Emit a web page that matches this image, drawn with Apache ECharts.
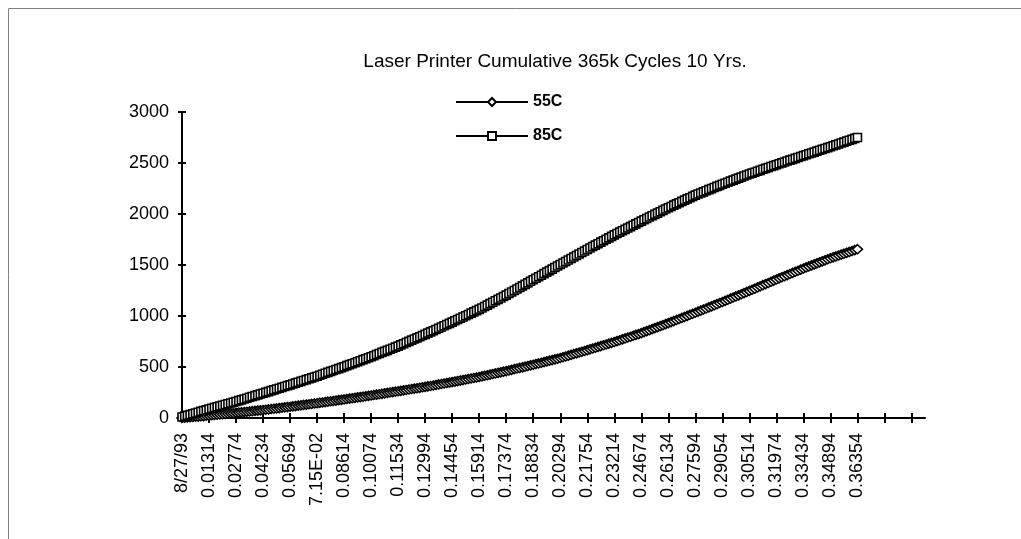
<!DOCTYPE html>
<html>
<head>
<meta charset="utf-8">
<script src="https://cdn.jsdelivr.net/npm/echarts@6/dist/echarts.min.js"></script>
<style>
  html, body { margin: 0; padding: 0; background: #fff; }
  #chart { width: 1021px; height: 539px; }
</style>
</head>
<body>
<div id="chart"></div>
<script>
const titleText = 'Laser Printer Cumulative 365k Cycles 10 Yrs.';
const seriesNames = ['55C', '85C'];
const tickLabels = ['8/27/93','0.01314','0.02774','0.04234','0.05694','7.15E-02','0.08614','0.10074','0.11534','0.12994','0.14454','0.15914','0.17374','0.18834','0.20294','0.21754','0.23214','0.24674','0.26134','0.27594','0.29054','0.30514','0.31974','0.33434','0.34894','0.36354'];
const categoryCount = 276;
const categories = Array.from({ length: categoryCount }, (_, i) => String(i));

const values55C = [
  0, 2, 5, 7, 10, 12, 14, 17, 19, 22,
  24, 27, 29, 32, 34, 37, 40, 42, 45, 47,
  50, 53, 56, 58, 61, 64, 67, 70, 72, 75,
  78, 81, 84, 88, 91, 94, 97, 100, 104, 107,
  110, 114, 117, 121, 124, 128, 131, 135, 138, 142,
  145, 149, 152, 156, 160, 164, 167, 171, 175, 178,
  182, 186, 190, 194, 198, 202, 205, 209, 213, 217,
  221, 225, 229, 233, 237, 242, 246, 250, 254, 258,
  262, 266, 271, 275, 279, 284, 288, 292, 296, 301,
  305, 310, 314, 319, 324, 329, 333, 338, 343, 347,
  352, 357, 362, 367, 372, 377, 382, 387, 392, 397,
  402, 408, 414, 419, 425, 431, 437, 443, 448, 454,
  460, 466, 472, 479, 485, 491, 497, 503, 510, 516,
  522, 529, 535, 542, 548, 555, 562, 568, 575, 581,
  588, 596, 603, 611, 619, 627, 634, 642, 650, 657,
  665, 673, 681, 689, 697, 705, 713, 721, 729, 737,
  745, 754, 762, 771, 780, 789, 797, 806, 815, 823,
  832, 842, 852, 861, 871, 881, 891, 901, 910, 920,
  930, 940, 950, 961, 971, 981, 991, 1001, 1012, 1022,
  1032, 1043, 1053, 1064, 1074, 1085, 1095, 1106, 1116, 1127,
  1137, 1148, 1159, 1170, 1181, 1192, 1202, 1213, 1224, 1235,
  1246, 1257, 1268, 1280, 1291, 1302, 1313, 1324, 1336, 1347,
  1358, 1369, 1380, 1390, 1401, 1412, 1423, 1434, 1444, 1455,
  1466, 1476, 1486, 1496, 1506, 1516, 1526, 1536, 1546, 1556,
  1566, 1575, 1584, 1593, 1602, 1611, 1619, 1628, 1637, 1646,
  1655
];

const values85C = [
  10, 18, 26, 33, 41, 49, 57, 65, 72, 80,
  88, 95, 103, 110, 118, 125, 132, 140, 147, 155,
  162, 170, 178, 186, 194, 203, 211, 219, 227, 235,
  243, 251, 259, 268, 276, 284, 292, 300, 309, 317,
  325, 334, 342, 351, 359, 368, 376, 385, 393, 402,
  410, 419, 429, 438, 447, 457, 466, 475, 484, 494,
  503, 513, 523, 532, 542, 552, 562, 572, 581, 591,
  601, 611, 622, 632, 643, 653, 663, 674, 684, 695,
  705, 717, 728, 740, 751, 763, 774, 786, 797, 809,
  820, 832, 844, 856, 868, 880, 892, 904, 916, 928,
  940, 953, 965, 978, 990, 1003, 1015, 1028, 1040, 1053,
  1065, 1079, 1093, 1107, 1121, 1135, 1149, 1163, 1177, 1191,
  1205, 1220, 1235, 1250, 1265, 1280, 1295, 1310, 1325, 1340,
  1355, 1370, 1385, 1400, 1415, 1430, 1445, 1460, 1475, 1490,
  1505, 1520, 1534, 1549, 1564, 1579, 1593, 1608, 1623, 1637,
  1652, 1666, 1681, 1695, 1709, 1724, 1738, 1752, 1766, 1781,
  1795, 1809, 1822, 1836, 1849, 1863, 1876, 1890, 1903, 1917,
  1930, 1943, 1956, 1970, 1983, 1996, 2009, 2022, 2036, 2049,
  2062, 2074, 2087, 2099, 2111, 2124, 2136, 2148, 2160, 2173,
  2185, 2196, 2206, 2217, 2228, 2239, 2249, 2260, 2271, 2281,
  2292, 2302, 2312, 2322, 2332, 2342, 2352, 2362, 2372, 2382,
  2392, 2401, 2410, 2419, 2428, 2438, 2447, 2456, 2465, 2474,
  2483, 2492, 2501, 2510, 2519, 2528, 2536, 2545, 2554, 2563,
  2572, 2581, 2590, 2598, 2607, 2616, 2625, 2634, 2642, 2651,
  2660, 2669, 2678, 2687, 2696, 2705, 2714, 2723, 2732, 2741,
  2750
];

const FONT = '"Liberation Sans", Arial, sans-serif';
const chart = echarts.init(document.getElementById('chart'), null, { renderer: 'canvas' });

const option = {
  animation: false,
  backgroundColor: '#fff',
  graphic: [
    { type: 'rect', silent: true, shape: { x: 8.5, y: 8.5, width: 1100, height: 600 },
      style: { fill: 'none', stroke: '#808080', lineWidth: 1 } },
    { type: 'text', silent: true, x: 555, y: 62,
      style: { text: titleText, fill: '#000', font: '19px ' + FONT, align: 'center', verticalAlign: 'middle' } }
  ],
  legend: {
    orient: 'vertical',
    left: 450,
    top: 89,
    itemWidth: 72,
    itemHeight: 10,
    itemGap: 18,
    data: seriesNames,
    textStyle: { color: '#000', fontSize: 16, fontWeight: 'bold', fontFamily: FONT }
  },
  grid: { left: 182, right: 96, top: 112, bottom: 121, containLabel: false },
  xAxis: [
    {
      type: 'category',
      data: categories,
      boundaryGap: false,
      position: 'bottom',
      axisLine: { show: true, onZero: false, lineStyle: { color: '#000', width: 2 } },
      axisTick: { show: true, interval: 9, length: 5, inside: false, lineStyle: { color: '#000', width: 2 } },
      axisLabel: {
        show: true, interval: 9, rotate: 90, margin: 15,
        color: '#000', fontSize: 18, fontFamily: FONT,
        formatter: (v, i) => (i % 10 === 0 && tickLabels[i / 10] !== undefined) ? tickLabels[i / 10] : ''
      },
      splitLine: { show: false }
    },
    {
      type: 'category',
      data: categories,
      boundaryGap: false,
      position: 'bottom',
      axisLine: { show: false },
      axisTick: { show: true, interval: 9, length: 5, inside: true, lineStyle: { color: '#000', width: 2 } },
      axisLabel: { show: false },
      splitLine: { show: false }
    }
  ],
  yAxis: [
    {
      type: 'value',
      min: 0, max: 3000, interval: 500,
      position: 'left',
      axisLine: { show: true, onZero: false, lineStyle: { color: '#000', width: 2 } },
      axisTick: { show: true, length: 4, inside: false, lineStyle: { color: '#000', width: 2 } },
      axisLabel: { color: '#000', fontSize: 18, fontFamily: FONT, margin: 13, formatter: (v) => String(v) },
      splitLine: { show: false }
    },
    {
      type: 'value',
      min: 0, max: 3000, interval: 500,
      position: 'left',
      axisLine: { show: false },
      axisTick: { show: true, length: 4, inside: true, lineStyle: { color: '#000', width: 2 } },
      axisLabel: { show: false },
      splitLine: { show: false }
    }
  ],
  series: [
    {
      name: seriesNames[0],
      type: 'line',
      xAxisIndex: 0, yAxisIndex: 0,
      data: values55C,
      symbol: 'diamond',
      symbolSize: [10, 9],
      showSymbol: true,
      showAllSymbol: true,
      lineStyle: { color: '#000', width: 1 },
      itemStyle: { color: '#fff', borderColor: '#000', borderWidth: 1.6 },
      emphasis: { disabled: true }
    },
    {
      name: seriesNames[1],
      type: 'line',
      xAxisIndex: 0, yAxisIndex: 0,
      data: values85C,
      symbol: 'rect',
      symbolSize: 8,
      showSymbol: true,
      showAllSymbol: true,
      lineStyle: { color: '#000', width: 1 },
      itemStyle: { color: '#fff', borderColor: '#000', borderWidth: 1.6 },
      emphasis: { disabled: true }
    }
  ]
};
chart.setOption(option);
</script>
</body>
</html>
